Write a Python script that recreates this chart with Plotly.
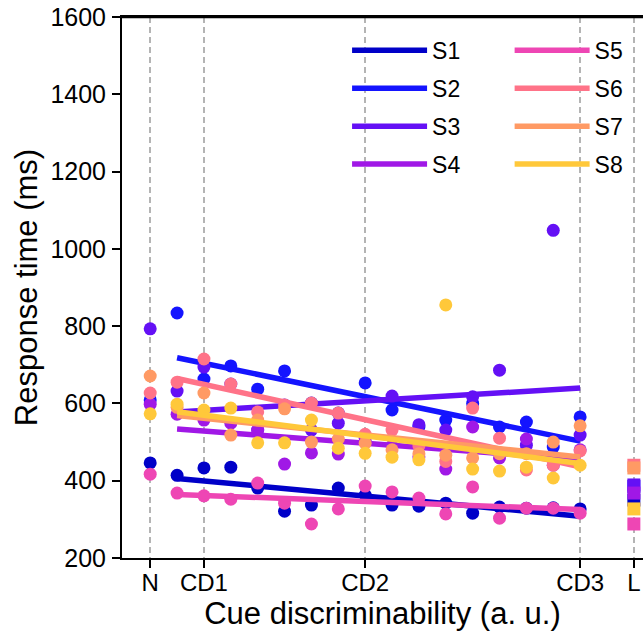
import numpy as np
import plotly.graph_objects as go

# ---- data ----
subjects = ["S1", "S2", "S3", "S4", "S5", "S6", "S7", "S8"]
colors = ["#0000C8", "#1414FF", "#6410F5", "#A018E6", "#EE46B4", "#FF7388", "#FF9A64", "#FFC83A"]

# cue discriminability levels (x index positions)
cd_x = list(range(16))
tick_vals = [-1, 1, 7, 15, 17]
tick_text = ["N", "CD1", "CD2", "CD3", "L"]
x_none = -1
x_light = 17
y_ticks = [200, 400, 600, 800, 1000, 1200, 1400, 1600]

rt_s1 = [414, 433, 435, 381, 321, 337, 381, 363, 337, 334, 342, 316, 332, 329, 330, 327]
rt_s2 = [834, 663, 697, 637, 684, 601, 575, 653, 583, 539, 557, 600, 539, 552, 487, 565]
rt_s3 = [632, 694, 650, 531, 596, 531, 549, 500, 619, 545, 531, 617, 686, 492, 1048, 518]
rt_s4 = [572, 557, 549, 531, 443, 472, 469, 510, 490, 462, 430, 539, 459, 508, 440, 480]
rt_s5 = [368, 361, 352, 394, 342, 288, 327, 386, 371, 355, 314, 384, 303, 329, 329, 316]
rt_s6 = [655, 715, 650, 578, 596, 601, 575, 520, 531, 490, 450, 588, 510, 428, 440, 477]
rt_s7 = [590, 627, 518, 557, 586, 500, 508, 497, 480, 470, 466, 459, 470, 470, 500, 542]
rt_s8 = [598, 583, 588, 498, 498, 557, 484, 471, 461, 454, 855, 430, 425, 435, 407, 440]

rt_none = [446, 609, 793, 598, 417, 627, 671, 573]
rt_light = [350, 385, 389, 368, 288, 440, 433, 327]

rts = [rt_s1, rt_s2, rt_s3, rt_s4, rt_s5, rt_s6, rt_s7, rt_s8]

fig = go.Figure()

for i, (name, col, rt) in enumerate(zip(subjects, colors, rts)):
    legend_id = "legend" if i < 4 else "legend2"
    fig.add_trace(go.Scatter(
        x=cd_x, y=rt, mode="markers",
        marker=dict(color=col, size=13, line=dict(width=0)),
        showlegend=False, legendgroup=name, hoverinfo="skip"))
    fig.add_trace(go.Scatter(
        x=[x_none], y=[rt_none[i]], mode="markers",
        marker=dict(color=col, size=13, line=dict(width=0)),
        showlegend=False, legendgroup=name, hoverinfo="skip"))
    fig.add_trace(go.Scatter(
        x=[x_light], y=[rt_light[i]], mode="markers",
        marker=dict(color=col, size=13, symbol="square", line=dict(width=0)),
        showlegend=False, legendgroup=name, hoverinfo="skip"))
    slope, icpt = np.polyfit(cd_x, rt, 1)
    xf = np.array([cd_x[0], cd_x[-1]], dtype=float)
    fig.add_trace(go.Scatter(
        x=xf, y=icpt + slope * xf, mode="lines",
        line=dict(color=col, width=5.5), name=name,
        legendgroup=name, legend=legend_id))

font_family = "Liberation Sans, Arial, sans-serif"

fig.update_layout(
    width=643, height=637,
    margin=dict(l=122, r=0, t=17, b=79),
    plot_bgcolor="white", paper_bgcolor="white",
    font=dict(family=font_family, size=24, color="black"),
    xaxis=dict(
        range=[-2.05, 17.34], automargin=False,
        tickmode="array", tickvals=tick_vals, ticktext=tick_text,
        showgrid=True, gridcolor="#b4b4b4", gridwidth=2, griddash="6px,4px",
        showline=True, linecolor="black", linewidth=2, mirror=True,
        ticks="outside", ticklen=8, tickwidth=2, tickcolor="black",
        zeroline=False, tickfont=dict(size=24),
        ticklabelstandoff=-6, ticklabeloverflow="allow",
        title=dict(text="Cue discriminability (a. u.)", font=dict(size=31), standoff=6),
    ),
    yaxis=dict(
        range=[y_ticks[0], y_ticks[-1]], automargin=False,
        tickvals=y_ticks,
        showgrid=False,
        showline=True, linecolor="black", linewidth=2, mirror=True,
        ticks="outside", ticklen=8, tickwidth=2, tickcolor="black",
        zeroline=False, tickfont=dict(size=25),
        ticklabelstandoff=1, ticklabeloverflow="allow",
        title=dict(text="Response time (ms)", font=dict(size=31), standoff=4),
    ),
    legend=dict(x=0.432, y=0.978, xanchor="left", yanchor="top",
                bgcolor="rgba(0,0,0,0)", font=dict(size=23),
                tracegroupgap=5, itemwidth=75),
    legend2=dict(x=0.744, y=0.978, xanchor="left", yanchor="top",
                 bgcolor="rgba(0,0,0,0)", font=dict(size=23),
                 tracegroupgap=5, itemwidth=75),
    shapes=[dict(type="line", xref="paper", yref="y", x0=0, x1=1,
                 y0=y_ticks[-1], y1=y_ticks[-1], layer="above",
                 line=dict(color="black", width=2.5))],
)

fig.write_html(
    "out.html",
    config={"displayModeBar": False},
    post_script="document.body.style.margin='0';document.body.style.overflow='hidden';",
)
